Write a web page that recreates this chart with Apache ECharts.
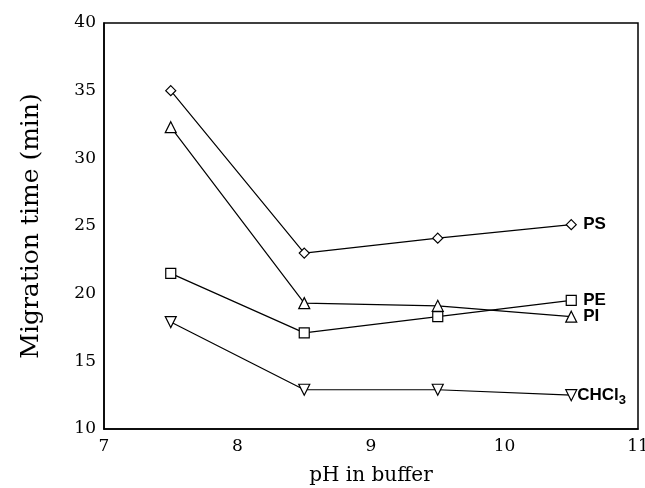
<!DOCTYPE html>
<html>
<head>
<meta charset="utf-8">
<script src="https://cdn.jsdelivr.net/npm/echarts@6/dist/echarts.min.js"></script>
<style>html,body{margin:0;padding:0;background:#fff}#c{width:645px;height:488px}</style>
</head>
<body>
<div id="c"></div>
<script>
var phValues = [7.5, 8.5, 9.5, 10.5];
var psTimes = [35.0, 23.0, 24.1, 25.1];
var piTimes = [32.3, 19.3, 19.1, 18.3];
var peTimes = [21.5, 17.1, 18.3, 19.5];
var chcl3Times = [17.9, 12.9, 12.9, 12.5];
var seriesNames = ['PS', 'PI', 'PE', 'CHCl3'];
var xTicks = [7, 8, 9, 10, 11];
var yTicks = [10, 15, 20, 25, 30, 35, 40];

function pairs(ys) { return phValues.map(function (x, i) { return [x, ys[i]]; }); }

var chart = echarts.init(document.getElementById('c'), null, { renderer: 'canvas' });
var serifFont = '"DejaVu Serif", "Liberation Serif", serif';
var sansFont = '"Liberation Sans", Arial, sans-serif';

function mk(name, ys, symbol, size, rotate, labelText) {
  return {
    name: name,
    type: 'line',
    data: pairs(ys),
    symbol: symbol,
    symbolSize: size,
    symbolRotate: rotate,
    showSymbol: true,
    lineStyle: { color: '#000', width: 1.2 },
    itemStyle: { color: '#fff', borderColor: '#000', borderWidth: 1.2 },
    z: 3,
    endLabel: {
      show: true,
      distance: name === 'CHCl3' ? 6 : 12,
      formatter: function () { return labelText; },
      color: '#000',
      fontFamily: sansFont,
      fontWeight: 'bold',
      fontSize: 17,
      rich: {
        sub: { fontFamily: sansFont, fontWeight: 'bold', fontSize: 13, color: '#000', padding: [10, 0, 0, 0] }
      }
    },
    animation: false
  };
}

chart.setOption({
  animation: false,
  backgroundColor: '#fff',
  grid: { left: 104, right: 7, top: 23, bottom: 59, outerBoundsMode: 'none', containLabel: false, show: true, borderColor: '#000', borderWidth: 1.5, backgroundColor: 'transparent' },
  xAxis: {
    type: 'value', min: xTicks[0], max: xTicks[xTicks.length - 1], interval: 1,
    name: 'pH in buffer', nameLocation: 'middle', nameGap: 37,
    nameTextStyle: { fontFamily: serifFont, fontSize: 20, color: '#000' },
    axisLine: { show: true, lineStyle: { color: '#000', width: 1.5 } },
    axisTick: { show: false },
    splitLine: { show: false },
    axisLabel: { fontFamily: serifFont, fontSize: 17, color: '#000', margin: 9 }
  },
  yAxis: {
    type: 'value', min: yTicks[0], max: yTicks[yTicks.length - 1], interval: 5,
    name: 'Migration time (min)', nameLocation: 'middle', nameGap: 60,
    nameTextStyle: { fontFamily: serifFont, fontSize: 25, color: '#000' },
    axisLine: { show: true, lineStyle: { color: '#000', width: 1.5 } },
    axisTick: { show: false },
    splitLine: { show: false },
    axisLabel: { fontFamily: serifFont, fontSize: 17, color: '#000', margin: 8 }
  },
  series: [
    mk('PS', psTimes, 'diamond', 10, 0, seriesNames[0]),
    mk('PI', piTimes, 'triangle', 11, 0, seriesNames[1]),
    mk('PE', peTimes, 'rect', 10, 0, seriesNames[2]),
    mk('CHCl3', chcl3Times, 'triangle', 11, 180, 'CHCl{sub|3}')
  ]
});
</script>
</body>
</html>
